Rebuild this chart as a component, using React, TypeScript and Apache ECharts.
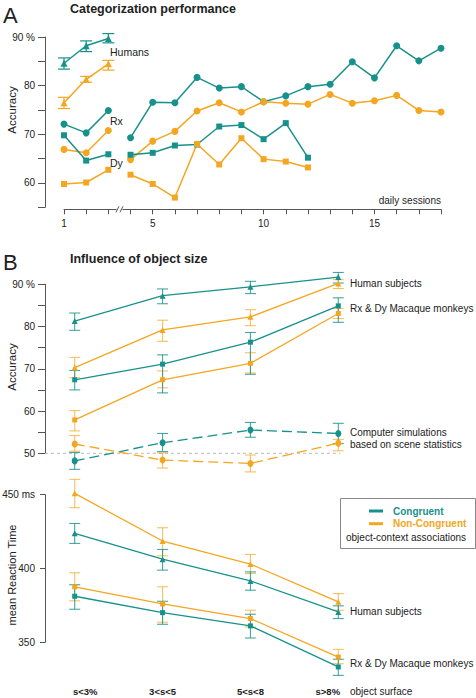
import React, { useEffect, useRef } from "react";
import * as echarts from "echarts";

const TEAL = "#17918b";
const ORANGE = "#f4a620";
const TEAL_ERR = "rgba(23,145,139,0.8)";
const ORANGE_ERR = "rgba(244,166,32,0.7)";
const INK = "#222";
const AXIS = "#555";
const FONT = "'Liberation Sans', Arial, Helvetica, sans-serif";

// ---------- Panel A : categorization performance over daily sessions ----------
const sessions = [1, 2, 3, 4, 5, 6, 7, 8, 9, 10, 11, 12, 13, 14, 15, 16, 17, 18];
const sessionLabelValues = [1, 5, 10, 15];
const sessionBreakAfter = 3;

const humansCong = [84.6, 88.2, 89.7];
const humansCongLow = [83.4, 87.0, 88.8];
const humansCongHigh = [85.7, 89.2, 90.7];
const humansNon = [76.5, 81.3, 84.5];
const humansNonLow = [75.3, 80.7, 83.2];
const humansNonHigh = [77.6, 81.9, 85.2];

const rxCong = [72.1, 70.3, 74.9, 69.3, 76.6, 76.5, 81.7, 79.5, 79.8, 76.7, 77.9, 79.8, 80.3, 84.9, 81.6, 88.2, 85.1, 87.7];
const rxNon = [66.9, 66.2, 70.8, 64.8, 68.6, 70.6, 74.8, 76.5, 74.6, 76.7, 76.4, 76.2, 78.2, 76.4, 76.9, 78.0, 74.9, 74.6];
const dyCong = [69.8, 64.6, 65.9, 65.8, 66.2, 67.7, 67.9, 71.6, 71.9, 69.0, 72.3, 65.2];
const dyNon = [59.8, 60.1, 62.7, 61.7, 59.8, 57.0, 68.0, 63.8, 69.2, 64.9, 64.4, 63.2];

// ---------- Panel B : influence of object size ----------
const sizeCategories = ["s<3%", "3<s<5", "5<s<8", "s>8%"];
const sizeIdx = [0, 1, 2, 3];

const accHumanCong = [81.3, 87.3, 89.4, 91.7];
const accHumanCongLow = [79.1, 85.4, 87.8, 90.3];
const accHumanCongHigh = [83.2, 88.9, 90.7, 92.8];
const accHumanNon = [70.3, 79.2, 82.3, 90.2];
const accHumanNonLow = [67.9, 76.5, 80.2, 89.0];
const accHumanNonHigh = [72.7, 81.5, 84.0, 91.1];
const accMonkeyCong = [67.4, 71.1, 76.3, 84.9];
const accMonkeyCongLow = [65.0, 64.3, 68.7, 81.0];
const accMonkeyCongHigh = [69.6, 73.3, 78.6, 86.8];
const accMonkeyNon = [57.9, 67.4, 71.3, 83.1];
const accMonkeyNonLow = [55.3, 65.5, 69.0, 81.9];
const accMonkeyNonHigh = [60.1, 69.5, 73.8, 84.3];
const accSimCong = [48.2, 52.5, 55.5, 54.7];
const accSimCongLow = [46.2, 50.4, 53.8, 52.3];
const accSimCongHigh = [50.2, 54.7, 57.3, 57.1];
const accSimNon = [52.2, 48.4, 47.6, 52.4];
const accSimNonLow = [50.5, 46.5, 45.6, 50.6];
const accSimNonHigh = [54.2, 50.1, 49.6, 53.3];
const chanceLevel = 50;

const rtHumanCong = [423.8, 406.3, 391.6, 370.6];
const rtHumanCongLow = [417.0, 398.9, 385.3, 366.1];
const rtHumanCongHigh = [430.5, 412.9, 397.7, 374.7];
const rtHumanNon = [450.9, 418.6, 403.0, 377.4];
const rtHumanNonLow = [441.2, 408.6, 396.6, 371.7];
const rtHumanNonHigh = [460.4, 427.6, 409.5, 383.0];
const rtMonkeyCong = [381.2, 370.1, 361.1, 333.3];
const rtMonkeyCongLow = [372.4, 362.2, 352.9, 327.6];
const rtMonkeyCongHigh = [389.0, 377.8, 369.0, 338.5];
const rtMonkeyNon = [387.6, 376.0, 366.1, 340.0];
const rtMonkeyNonLow = [378.1, 363.6, 360.4, 335.5];
const rtMonkeyNonHigh = [397.1, 387.6, 371.7, 345.2];

// tick labels
const accTickValues = [50, 60, 70, 80, 90];
const accTickLabels = ["50", "60", "70", "80", "90 %"];
const rtTickValues = [350, 400, 450];
const rtTickLabels = ["350", "400", "450 ms"];

// layout
const AXIS_X = 45;
const GRID_A = { left: 64, right: 35, top: 37, height: 170.3 };
const GRID_B = { left: 74.7, right: 137.7, top: 284.3, height: 169 };
const GRID_C = { left: 74.7, right: 137.7, top: 494.7, height: 147.6 };
const X_OFFSET_A = 2;

function lineSeries(name: string, axis: number, data: any[], color: string, symbol: string, size: any, width: number, dashed = false) {
  return {
    type: "line",
    name,
    xAxisIndex: axis,
    yAxisIndex: axis,
    data,
    symbol,
    symbolSize: size,
    showSymbol: true,
    showAllSymbol: true,
    itemStyle: { color, borderWidth: 0 },
    lineStyle: { color, width, type: dashed ? [10, 5] : "solid" },
    clip: false,
    silent: true,
    z: 3,
    emphasis: { disabled: true },
  };
}

function errSeries(axis: number, xs: number[], lows: number[], highs: number[], color: string, capHalf: number, width: number) {
  return {
    type: "custom",
    name: "error",
    xAxisIndex: axis,
    yAxisIndex: axis,
    clip: false,
    silent: true,
    z: 2,
    data: xs.map((x, i) => [x, lows[i], highs[i]]),
    encode: { x: 0, y: [1, 2] },
    renderItem: (_params: any, api: any) => {
      const x = api.value(0);
      const lo = api.coord([x, api.value(1)]);
      const hi = api.coord([x, api.value(2)]);
      const style = { stroke: color, lineWidth: width, fill: null };
      return {
        type: "group",
        children: [
          { type: "line", shape: { x1: lo[0], y1: lo[1], x2: hi[0], y2: hi[1] }, style },
          { type: "line", shape: { x1: lo[0] - capHalf, y1: lo[1], x2: lo[0] + capHalf, y2: lo[1] }, style },
          { type: "line", shape: { x1: hi[0] - capHalf, y1: hi[1], x2: hi[0] + capHalf, y2: hi[1] }, style },
        ],
      };
    },
  };
}

function splitSessions(name: string, values: number[], color: string, symbol: string, size: number) {
  const pts = values.map((v, i) => [sessions[i], v]);
  return [pts.slice(0, sessionBreakAfter), pts.slice(sessionBreakAfter)]
    .filter((seg) => seg.length > 0)
    .map((seg) => lineSeries(name, 0, seg, color, symbol, size, 1.5));
}

function yAxisCfg(gridIndex: number, min: number, max: number, interval: number, offset: number, values: number[], labels: string[], tickLen: number) {
  return {
    type: "value",
    gridIndex,
    min,
    max,
    interval,
    offset,
    position: "left",
    axisLine: { show: true, lineStyle: { color: AXIS, width: 1 } },
    axisTick: { show: true, length: tickLen, lineStyle: { color: AXIS, width: 1 } },
    axisLabel: {
      margin: 10,
      color: INK,
      fontSize: 10,
      fontFamily: FONT,
      formatter: (v: number) => {
        const i = values.indexOf(v);
        return i >= 0 ? labels[i] : "";
      },
    },
    splitLine: { show: false },
  };
}

function txt(text: string, x: number, y: number, o: any = {}) {
  const align = o.align || "left";
  return {
    type: "text",
    x,
    y,
    z: 50,
    silent: true,
    rotation: o.rotation || 0,
    style: {
      text,
      fill: o.fill || INK,
      fontSize: o.size || 10,
      fontWeight: o.weight || "normal",
      fontFamily: FONT,
      textAlign: align,
      align,
      textVerticalAlign: "middle",
      verticalAlign: "middle",
    },
  };
}

function buildOption() {
  const series: any[] = [];
  // Panel A
  const hx = sessions.slice(0, humansCong.length);
  series.push(errSeries(0, hx, humansCongLow, humansCongHigh, TEAL, 6, 1.2));
  series.push(errSeries(0, hx, humansNonLow, humansNonHigh, ORANGE, 6, 1.2));
  series.push(lineSeries("Congruent", 0, humansCong.map((v, i) => [hx[i], v]), TEAL, "triangle", 7, 1.5));
  series.push(lineSeries("Non-Congruent", 0, humansNon.map((v, i) => [hx[i], v]), ORANGE, "triangle", 7, 1.5));
  series.push(...splitSessions("Congruent", rxCong, TEAL, "circle", 7));
  series.push(...splitSessions("Non-Congruent", rxNon, ORANGE, "circle", 7));
  series.push(...splitSessions("Congruent", dyCong, TEAL, "rect", 6));
  series.push(...splitSessions("Non-Congruent", dyNon, ORANGE, "rect", 6));

  // Panel B accuracy
  series.push(errSeries(1, sizeIdx, accHumanCongLow, accHumanCongHigh, TEAL_ERR, 5.5, 1.1));
  series.push(errSeries(1, sizeIdx, accHumanNonLow, accHumanNonHigh, ORANGE_ERR, 5.5, 1.1));
  series.push(errSeries(1, sizeIdx, accMonkeyNonLow, accMonkeyNonHigh, ORANGE_ERR, 5.5, 1.1));
  series.push(errSeries(1, sizeIdx, accMonkeyCongLow, accMonkeyCongHigh, TEAL_ERR, 5.5, 1.1));
  series.push(errSeries(1, sizeIdx, accSimNonLow, accSimNonHigh, ORANGE_ERR, 5.5, 1.1));
  series.push(errSeries(1, sizeIdx, accSimCongLow, accSimCongHigh, TEAL_ERR, 5.5, 1.1));
  series.push(lineSeries("Congruent", 1, accHumanCong, TEAL, "triangle", 6, 1.3));
  series.push(lineSeries("Non-Congruent", 1, accHumanNon, ORANGE, "triangle", 6, 1.3));
  series.push(lineSeries("Congruent", 1, accMonkeyCong, TEAL, "rect", 5, 1.3));
  series.push(lineSeries("Non-Congruent", 1, accMonkeyNon, ORANGE, "rect", 5, 1.3));
  series.push(lineSeries("Congruent", 1, accSimCong, TEAL, "circle", [6, 7], 1.3, true));
  series.push(lineSeries("Non-Congruent", 1, accSimNon, ORANGE, "circle", [6, 7], 1.3, true));

  // Panel B reaction time
  series.push(errSeries(2, sizeIdx, rtHumanNonLow, rtHumanNonHigh, ORANGE_ERR, 5.5, 1.1));
  series.push(errSeries(2, sizeIdx, rtHumanCongLow, rtHumanCongHigh, TEAL_ERR, 5.5, 1.1));
  series.push(errSeries(2, sizeIdx, rtMonkeyNonLow, rtMonkeyNonHigh, ORANGE_ERR, 5.5, 1.1));
  series.push(errSeries(2, sizeIdx, rtMonkeyCongLow, rtMonkeyCongHigh, TEAL_ERR, 5.5, 1.1));
  series.push(lineSeries("Congruent", 2, rtHumanCong, TEAL, "triangle", 6, 1.3));
  series.push(lineSeries("Non-Congruent", 2, rtHumanNon, ORANGE, "triangle", 6, 1.3));
  series.push(lineSeries("Congruent", 2, rtMonkeyCong, TEAL, "rect", 5, 1.3));
  series.push(lineSeries("Non-Congruent", 2, rtMonkeyNon, ORANGE, "rect", 5, 1.3));

  const lastCat = sizeCategories.length - 1;
  const catRich = { fontSize: 9.5, fontWeight: "bold", fontFamily: FONT, color: INK };

  return {
    animation: false,
    backgroundColor: "#fff",
    textStyle: { fontFamily: FONT },
    grid: [
      { ...GRID_A, containLabel: false, outerBoundsMode: "none" },
      { ...GRID_B, containLabel: false, outerBoundsMode: "none" },
      { ...GRID_C, containLabel: false, outerBoundsMode: "none" },
    ],
    legend: {
      data: [
        { name: "Congruent", textStyle: { color: TEAL } },
        { name: "Non-Congruent", textStyle: { color: ORANGE } },
      ],
      orient: "vertical",
      left: 369,
      top: 505,
      padding: 0,
      itemWidth: 14,
      itemHeight: 3,
      itemGap: 0.7,
      icon: "rect",
      selectedMode: false,
      textStyle: { fontWeight: "bold", fontSize: 10, fontFamily: FONT, lineHeight: 12, padding: [0, 0, 0, 5] },
    },
    xAxis: [
      {
        type: "value",
        gridIndex: 0,
        min: 1,
        max: 18,
        interval: 1,
        offset: X_OFFSET_A,
        axisLine: { show: true, lineStyle: { color: AXIS, width: 1 } },
        axisTick: { show: true, length: 5, lineStyle: { color: AXIS, width: 1 } },
        axisLabel: {
          margin: 9,
          color: INK,
          fontSize: 10,
          fontFamily: FONT,
          formatter: (v: number) => (sessionLabelValues.includes(v) ? String(v) : ""),
        },
        splitLine: { show: false },
      },
      { type: "category", gridIndex: 1, data: sizeCategories, boundaryGap: false, show: false },
      {
        type: "category",
        gridIndex: 2,
        data: sizeCategories,
        boundaryGap: false,
        axisLine: { show: false },
        axisTick: { show: false },
        axisLabel: {
          interval: 0,
          margin: 44,
          ...catRich,
          formatter: (v: string, i: number) => (i === 0 ? `{first|${v}}` : i === lastCat ? `{last|${v}}` : `{mid|${v}}`),
          rich: {
            first: { ...catRich, padding: [0, 0, 0, 21] },
            mid: { ...catRich },
            last: { ...catRich, padding: [0, 21, 0, 0] },
          },
        },
      },
    ],
    yAxis: [
      yAxisCfg(0, 55, 90, 5, GRID_A.left - AXIS_X, accTickValues, accTickLabels, 7),
      yAxisCfg(1, 50, 90, 5, GRID_B.left - AXIS_X, accTickValues, accTickLabels, 7),
      yAxisCfg(2, 350, 450, 50, GRID_C.left - AXIS_X, rtTickValues, rtTickLabels, 5),
    ],
    series,
  };
}

function buildGraphics(chart: any) {
  const g: any[] = [];
  // Panel letters and titles
  g.push(txt("A", 3, 15, { size: 22 }));
  g.push(txt("Categorization performance", 70, 9, { size: 12.5, weight: "bold" }));
  g.push(txt("B", 3, 262, { size: 22 }));
  g.push(txt("Influence of object size", 70, 259, { size: 12.5, weight: "bold" }));
  // Axis titles
  g.push(txt("Accuracy", 12, 110, { size: 11.5, align: "center", rotation: Math.PI / 2 }));
  g.push(txt("Accuracy", 12, 367, { size: 11.5, align: "center", rotation: Math.PI / 2 }));
  g.push(txt("mean Reaction Time", 12, 575, { size: 11, align: "center", rotation: Math.PI / 2 }));
  // Panel A annotations
  g.push(txt("Humans", 110, 51.7, { size: 10.5 }));
  g.push(txt("Rx", 110, 121, { size: 10.5 }));
  g.push(txt("Dy", 110, 163.3, { size: 10.5 }));
  g.push(txt("daily sessions", 441, 200, { size: 10, align: "right" }));
  // Panel B annotations
  g.push(txt("Human subjects", 350, 283.3));
  g.push(txt("Rx & Dy Macaque monkeys", 350, 308.3));
  g.push(txt("Computer simulations", 350, 432.7));
  g.push(txt("based on scene statistics", 350, 444.3));
  g.push(txt("Human subjects", 350, 611.7));
  g.push(txt("Rx & Dy Macaque monkeys", 350, 663.3));
  g.push(txt("object surface", 350, 691.7));
  // Legend frame and caption
  g.push({ type: "rect", z: 40, silent: true, shape: { x: 340.5, y: 498.5, width: 135, height: 50 }, style: { fill: "none", stroke: "#888", lineWidth: 1 } });
  g.push(txt("object-context associations", 346, 537));

  // chance level line
  const c0 = chart.convertToPixel({ xAxisIndex: 1, yAxisIndex: 1 }, [0, chanceLevel]);
  const c3 = chart.convertToPixel({ xAxisIndex: 1, yAxisIndex: 1 }, [sizeCategories.length - 1, chanceLevel]);
  g.push({
    type: "line",
    z: 1,
    silent: true,
    shape: { x1: AXIS_X, y1: c0[1], x2: c3[0] + 2, y2: c0[1] },
    style: { stroke: "#bbb", lineWidth: 1, lineDash: [3, 3] },
  });

  // axis break "//" on panel A
  const b = chart.convertToPixel({ xAxisIndex: 0, yAxisIndex: 0 }, [sessionBreakAfter + 0.5, 55]);
  const bx = b[0];
  const by = b[1] + X_OFFSET_A;
  g.push({ type: "rect", z: 45, silent: true, shape: { x: bx - 3, y: by - 2, width: 6, height: 4 }, style: { fill: "#fff" } });
  g.push({ type: "line", z: 46, silent: true, shape: { x1: bx - 3.5, y1: by + 3, x2: bx - 0.5, y2: by - 3 }, style: { stroke: AXIS, lineWidth: 1 } });
  g.push({ type: "line", z: 46, silent: true, shape: { x1: bx + 0.5, y1: by + 3, x2: bx + 3.5, y2: by - 3 }, style: { stroke: AXIS, lineWidth: 1 } });
  return g;
}

export default function App() {
  const ref = useRef<HTMLDivElement>(null);
  useEffect(() => {
    const chart = echarts.init(ref.current as HTMLDivElement, null, { renderer: "svg" });
    chart.setOption(buildOption() as any);
    chart.setOption({ graphic: buildGraphics(chart) } as any);
    return () => chart.dispose();
  }, []);
  return (
    <div
      ref={ref}
      style={{ position: "absolute", left: 0, top: 0, width: 476, height: 698, background: "#fff" }}
    />
  );
}
